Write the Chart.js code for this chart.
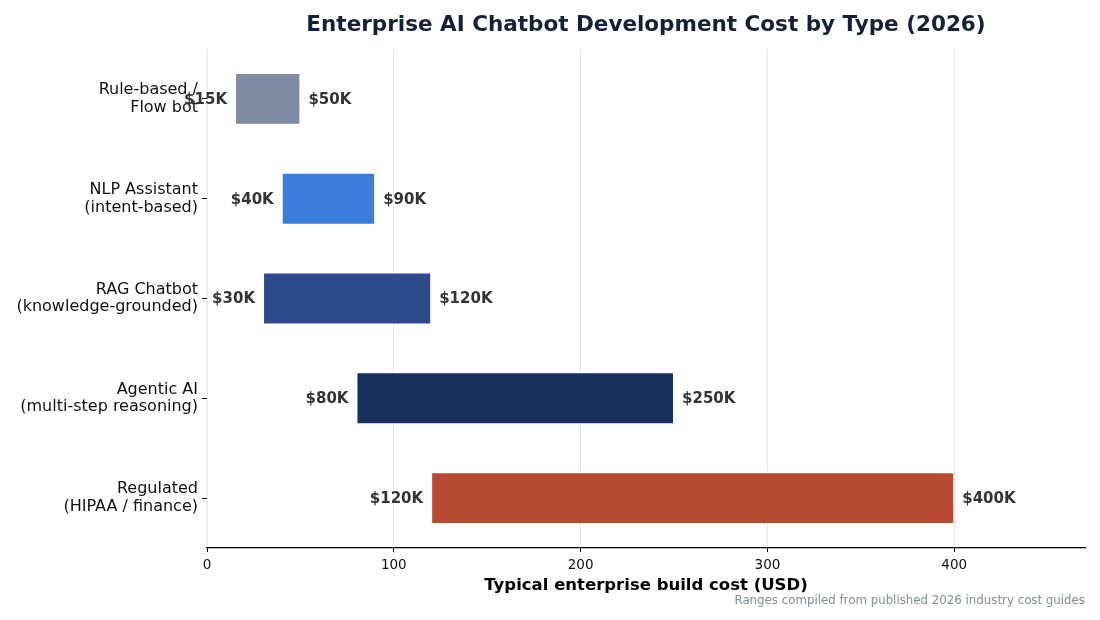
<!DOCTYPE html>
<html>
<head>
<title>Enterprise AI Chatbot Development Cost</title>
<script src="https://cdn.jsdelivr.net/npm/chart.js@4/dist/chart.umd.min.js"></script>
<style>
  body { margin: 0; background: #fff; }
  #wrap { position: relative; width: 1100px; height: 620px; }
</style>
</head>
<body>
<div id="wrap"><canvas id="costChart" width="1100" height="620"></canvas></div>

<script>
// chart data (thousands of USD)
var categories = [
    ['Rule-based /', 'Flow bot'],
    ['NLP Assistant', '(intent-based)'],
    ['RAG Chatbot', '(knowledge-grounded)'],
    ['Agentic AI', '(multi-step reasoning)'],
    ['Regulated', '(HIPAA / finance)']
];
var lowCost  = [15, 40, 30, 80, 120];
var highCost = [50, 90, 120, 250, 400];
var barColors = ['#7f8ca3', '#3b7ddb', '#2d4a8c', '#17305c', '#b94a32'];
var xTicks = [0, 100, 200, 300, 400];

var titleText = 'Enterprise AI Chatbot Development Cost by Type (2026)';
var sourceText = 'Ranges compiled from published 2026 industry cost guides';
var FONT = '"DejaVu Sans", sans-serif';

// floating bars: [low, high]
var ranges = lowCost.map(function (lo, i) { return [lo, highCost[i]]; });

// title, end labels and source note
var decorPlugin = {
    id: 'decor',
    afterDatasetsDraw: function (chart) {
        var ctx = chart.ctx;
        var xs = chart.scales.x;
        var meta = chart.getDatasetMeta(0);
        ctx.save();
        ctx.font = 'bold 15px ' + FONT;
        ctx.fillStyle = '#333333';
        ctx.textBaseline = 'middle';
        meta.data.forEach(function (bar, i) {
            var x0 = xs.getPixelForValue(lowCost[i]);
            var x1 = xs.getPixelForValue(highCost[i]);
            ctx.textAlign = 'right';
            ctx.fillText('$' + lowCost[i] + 'K', x0 - 8, bar.y + 1);
            ctx.textAlign = 'left';
            ctx.fillText('$' + highCost[i] + 'K', x1 + 8, bar.y + 1);
        });

        var ca = chart.chartArea;
        ctx.font = 'bold 21.5px ' + FONT;
        ctx.fillStyle = '#14213d';
        ctx.textAlign = 'center';
        ctx.fillText(titleText, (ca.left + ca.right) / 2, 25);

        ctx.font = '11.8px ' + FONT;
        ctx.fillStyle = '#7f8ca3';
        ctx.textAlign = 'right';
        ctx.fillText(sourceText, ca.right, 601);
        ctx.restore();
    }
};

var ctx = document.getElementById('costChart').getContext('2d');
var chart = new Chart(ctx, {
    type: 'bar',
    data: {
        labels: categories,
        datasets: [{
            data: ranges,
            backgroundColor: barColors,
            borderColor: '#ffffff',
            borderWidth: 1,
            borderSkipped: false,
            categoryPercentage: 1.0,
            barPercentage: 0.52
        }]
    },
    options: {
        indexAxis: 'y',
        responsive: false,
        animation: false,
        layout: { padding: { top: 49, right: 15, bottom: 20, left: 0 } },
        plugins: {
            legend: { display: false },
            title: { display: false },
            tooltip: { enabled: false }
        },
        scales: {
            x: {
                min: 0,
                max: 470,
                afterBuildTicks: function (scale) {
                    scale.ticks = xTicks.map(function (v) { return { value: v }; });
                },
                afterFit: function (scale) { scale.height = 52; },
                grid: { color: '#e6e6e6', tickColor: '#000', tickLength: 4 },
                border: { display: true, color: '#000', width: 1.2 },
                ticks: { color: '#111', font: { family: FONT, size: 13.5 }, padding: 5 },
                title: {
                    display: true,
                    text: 'Typical enterprise build cost (USD)',
                    color: '#000',
                    font: { family: FONT, size: 16.5, weight: 'bold' },
                    padding: { top: 2, bottom: 4 }
                }
            },
            y: {
                afterFit: function (scale) { scale.width = 207; },
                grid: { drawOnChartArea: false, offset: false, tickColor: '#000', tickLength: 5 },
                border: { display: false },
                ticks: {
                    color: '#111',
                    font: { family: FONT, size: 16, lineHeight: 1.1 },
                    padding: 4
                }
            }
        }
    },
    plugins: [decorPlugin]
});
</script>
</body>
</html>
